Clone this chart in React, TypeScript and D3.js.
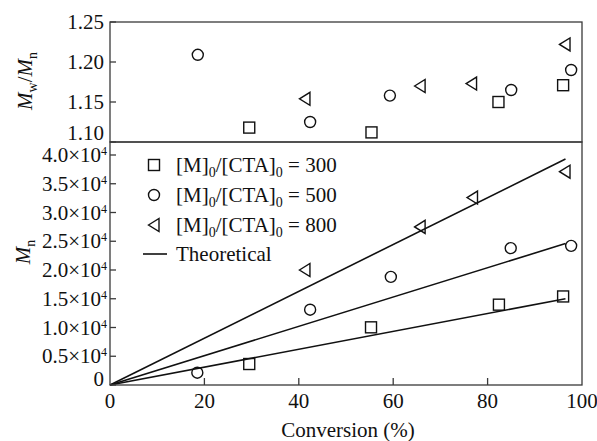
import React from "react";
import * as d3 from "d3";

// ---- Data ----
const pdiX300 = [29.5, 55.4, 82.3, 96.0];
const pdi300 = [1.118, 1.112, 1.150, 1.171];
const pdiX500 = [18.6, 42.4, 59.3, 85.0, 97.7];
const pdi500 = [1.209, 1.125, 1.158, 1.165, 1.190];
const pdiX800 = [41.3, 65.7, 76.6, 96.4];
const pdi800 = [1.154, 1.170, 1.173, 1.222];

const mnX300 = [29.5, 55.3, 82.4, 96.0];
const mn300 = [3650, 10030, 13970, 15400];
const mnX500 = [18.5, 42.4, 59.5, 84.9, 97.7];
const mn500 = [2140, 13100, 18800, 23800, 24200];
const mnX800 = [41.3, 65.7, 76.8, 96.4];
const mn800 = [20000, 27500, 32600, 37100];

const theoryX = [0, 96.5];
const theory300 = [0, 15000];
const theory500 = [0, 24600];
const theory800 = [0, 39300];

const xTicks = [0, 20, 40, 60, 80, 100];
const pdiTicks = [1.10, 1.15, 1.20, 1.25];
const pdiTickLabels = ["1.10", "1.15", "1.20", "1.25"];
const mnTicks = [0, 5000, 10000, 15000, 20000, 25000, 30000, 35000, 40000];
const mnTickMant = ["0", "0.5", "1.0", "1.5", "2.0", "2.5", "3.0", "3.5", "4.0"];
const legendRatios = ["300", "500", "800"];

const FONT = "'Liberation Serif', 'Times New Roman', serif";
const FS = 21;
const SUB = 14;
const AX = "#3a3a3a";
const INK = "#111";

const L = 110, R = 582, T = 22, MID = 142, B = 385;

function Marker({ type, x, y }: { type: string; x: number; y: number }) {
  if (type === "square")
    return <rect x={x - 5.5} y={y - 5.5} width={11} height={11} fill="none" stroke={INK} strokeWidth={1.4} />;
  if (type === "circle")
    return <circle cx={x} cy={y} r={5.5} fill="none" stroke={INK} strokeWidth={1.4} />;
  return (
    <path
      d={`M${x - 5.5},${y} L${x + 5},${y - 6.5} L${x + 5},${y + 6.5} Z`}
      fill="none"
      stroke={INK}
      strokeWidth={1.4}
      strokeLinejoin="miter"
    />
  );
}

export default function App() {
  const x = d3.scaleLinear().domain([0, 100]).range([L, R]);
  const yTop = d3.scaleLinear().domain([1.10, 1.25]).range([MID, T]);
  const yBot = d3.scaleLinear().domain([0, 40000]).range([B, 155]);

  const line = d3
    .line<[number, number]>()
    .x((d) => x(d[0]))
    .y((d) => yBot(d[1]));

  const pdiSeries = [
    { type: "square", xs: pdiX300, ys: pdi300 },
    { type: "circle", xs: pdiX500, ys: pdi500 },
    { type: "triangle", xs: pdiX800, ys: pdi800 },
  ];
  const mnSeries = [
    { type: "square", xs: mnX300, ys: mn300 },
    { type: "circle", xs: mnX500, ys: mn500 },
    { type: "triangle", xs: mnX800, ys: mn800 },
  ];
  const theories = [theory300, theory500, theory800];

  return (
    <svg
      width={597}
      height={441}
      style={{ position: "absolute", left: 0, top: 0, background: "#fff" }}
      fontFamily={FONT}
      fontSize={FS}
    >
      <rect width={597} height={441} fill="#fff" />

      {/* theoretical lines */}
      {theories.map((t, i) => (
        <path
          key={i}
          d={line(theoryX.map((v, j) => [v, t[j]] as [number, number])) || ""}
          fill="none"
          stroke={INK}
          strokeWidth={1.6}
        />
      ))}

      {/* markers top */}
      {pdiSeries.map((s) =>
        s.xs.map((v, i) => <Marker key={s.type + "t" + i} type={s.type} x={x(v)} y={yTop(s.ys[i])} />)
      )}
      {/* markers bottom */}
      {mnSeries.map((s) =>
        s.xs.map((v, i) => <Marker key={s.type + "b" + i} type={s.type} x={x(v)} y={yBot(s.ys[i])} />)
      )}

      {/* frames */}
      <rect x={L} y={T} width={R - L} height={MID - T} fill="none" stroke={AX} strokeWidth={1.3} />
      <rect x={L} y={MID} width={R - L} height={B - MID} fill="none" stroke={AX} strokeWidth={1.3} />

      {/* top y ticks */}
      {pdiTicks.map((v, i) => (
        <g key={"pt" + i}>
          <line x1={L} x2={L + 6} y1={yTop(v)} y2={yTop(v)} stroke={AX} strokeWidth={1.3} />
          <text
            x={104}
            y={i === 0 ? yTop(v) - 9 : yTop(v)}
            textAnchor="end"
            dominantBaseline="central"
            fill={INK}
          >
            {pdiTickLabels[i]}
          </text>
        </g>
      ))}

      {/* bottom y ticks */}
      {mnTicks.map((v, i) => (
        <g key={"mt" + i}>
          <line x1={L} x2={L + 6} y1={yBot(v)} y2={yBot(v)} stroke={AX} strokeWidth={1.3} />
          {i === 0 ? (
            <text x={104} y={yBot(v) - 6} textAnchor="end" dominantBaseline="central" fill={INK}>
              0
            </text>
          ) : (
            <text x={107} y={yBot(v) + 7} textAnchor="end" fill={INK}>
              {mnTickMant[i]}×10
              <tspan fontSize={12} dy={-7}>4</tspan>
            </text>
          )}
        </g>
      ))}

      {/* x ticks */}
      {xTicks.map((v, i) => (
        <g key={"xt" + i}>
          {i > 0 && i < xTicks.length - 1 && (
            <line x1={x(v)} x2={x(v)} y1={B} y2={B - 7} stroke={AX} strokeWidth={1.3} />
          )}
          <text x={x(v)} y={408} textAnchor="middle" fill={INK}>
            {v}
          </text>
        </g>
      ))}

      {/* axis titles */}
      <text x={348} y={437} textAnchor="middle" fill={INK}>
        Conversion (%)
      </text>
      <text transform="translate(32,81) rotate(-90)" textAnchor="middle" fill={INK}>
        <tspan fontStyle="italic">M</tspan>
        <tspan fontSize={SUB} dy={5}>w</tspan>
        <tspan dy={-5}>/</tspan>
        <tspan fontStyle="italic">M</tspan>
        <tspan fontSize={SUB} dy={5}>n</tspan>
      </text>
      <text transform="translate(30,252) rotate(-90)" textAnchor="middle" fill={INK}>
        <tspan fontStyle="italic">M</tspan>
        <tspan fontSize={SUB} dy={5}>n</tspan>
      </text>

      {/* legend */}
      {legendRatios.map((r, i) => {
        const ly = 165 + i * 30;
        const type = ["square", "circle", "triangle"][i];
        return (
          <g key={"lg" + i}>
            <Marker type={type} x={154} y={ly} />
            <text x={176} y={ly + 7} fill={INK}>
              [M]
              <tspan fontSize={SUB} dy={5}>0</tspan>
              <tspan dy={-5}>/[CTA]</tspan>
              <tspan fontSize={SUB} dy={5}>0</tspan>
              <tspan dy={-5}> = {r}</tspan>
            </text>
          </g>
        );
      })}
      <line x1={143} x2={167} y1={254} y2={254} stroke={INK} strokeWidth={1.6} />
      <text x={176} y={261} fill={INK}>
        Theoretical
      </text>
    </svg>
  );
}
